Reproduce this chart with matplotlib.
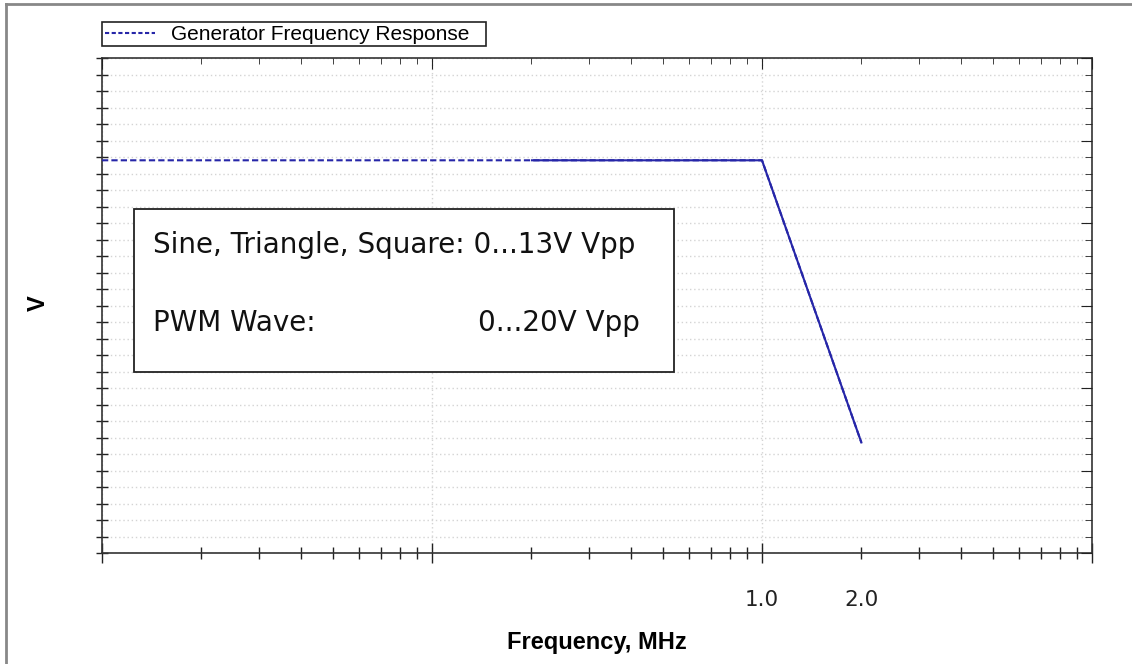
import matplotlib.pyplot as plt
from matplotlib.lines import Line2D
from matplotlib.patches import Rectangle
from matplotlib.ticker import LogLocator, MultipleLocator, NullFormatter

# data
freq_mhz = [0.01, 1.0, 2.0]
volts = [23.8, 23.8, 6.7]
x_tick_pos = [1.0, 2.0]
x_tick_txt = ['1.0', '2.0']
solid_from = 0.2   # left part of the trace is drawn dashed

W, H = 1132, 664
fig = plt.figure(figsize=(W / 100, H / 100), dpi=100)
fig.patch.set_facecolor('white')

L, R, T, B = 102, 1092, 58, 553
ax = fig.add_axes([L / W, 1 - B / H, (R - L) / W, (B - T) / H])
ax.set_xscale('log')
ax.set_xlim(0.01, 10)
ax.set_ylim(0, 30)

blue = '#2626a8'
ln, = ax.plot(freq_mhz, volts, color=blue, lw=1.5, linestyle=(0, (3, 1.5)),
              label='Generator Frequency Response', zorder=3)
solid, = ax.plot(freq_mhz, volts, color=blue, lw=1.5, zorder=4)
clip = Rectangle((solid_from, 0), 100, 30, transform=ax.transData, visible=False)
ax.add_patch(clip)
solid.set_clip_path(clip)

# grid: dotted, minor y, major x
ax.yaxis.set_major_locator(MultipleLocator(5))
ax.yaxis.set_minor_locator(MultipleLocator(1))
ax.xaxis.set_major_locator(LogLocator(base=10, numticks=10))
ax.xaxis.set_minor_locator(LogLocator(base=10, subs=range(2, 10), numticks=20))
ax.grid(True, which='minor', axis='y', color='#d4d4d4', lw=1, linestyle=(0, (1, 2)))
ax.grid(True, which='major', axis='x', color='#d4d4d4', lw=1, linestyle=(0, (1, 2)))
for fmt_axis in (ax.xaxis, ax.yaxis):
    fmt_axis.set_major_formatter(NullFormatter())
    fmt_axis.set_minor_formatter(NullFormatter())

ax.tick_params(axis='x', which='major', direction='inout', length=14, width=1, color='#222222')
ax.tick_params(axis='x', which='minor', direction='inout', length=8, width=1, color='#222222')
ax.tick_params(axis='y', which='major', direction='inout', length=16, width=1, color='#222222')
ax.tick_params(axis='y', which='minor', direction='inout', length=9, width=1, color='#222222')
for s in ax.spines.values():
    s.set_color('#333333')
    s.set_linewidth(1.2)

# labels for 1.0 and 2.0
for xv, txt in zip(x_tick_pos, x_tick_txt):
    ax.text(xv, -0.075, txt, transform=ax.get_xaxis_transform(), ha='center', va='top',
            fontsize=15.5, family='DejaVu Sans', color='#222222')

# top and right inner ticks
axt = ax.twiny()
axt.set_xscale('log')
axt.set_xlim(ax.get_xlim())
axt.xaxis.set_major_locator(LogLocator(base=10, numticks=10))
axt.xaxis.set_minor_locator(LogLocator(base=10, subs=range(2, 10), numticks=20))
axt.xaxis.set_major_formatter(NullFormatter())
axt.xaxis.set_minor_formatter(NullFormatter())
axt.tick_params(axis='x', which='major', direction='in', length=8, color='#222222')
axt.tick_params(axis='x', which='minor', direction='in', length=4, color='#222222')
axt.set_yticks([])
axr = ax.twinx()
axr.set_ylim(ax.get_ylim())
axr.yaxis.set_major_locator(MultipleLocator(5))
axr.yaxis.set_minor_locator(MultipleLocator(1))
axr.yaxis.set_major_formatter(NullFormatter())
axr.yaxis.set_minor_formatter(NullFormatter())
axr.tick_params(axis='y', which='major', direction='in', length=8, color='#222222')
axr.tick_params(axis='y', which='minor', direction='in', length=5, color='#222222')
for a in (axt, axr):
    for s in a.spines.values():
        s.set_visible(False)

ax.set_xlabel('Frequency, MHz', fontsize=17, fontweight='bold', family='Liberation Sans',
              labelpad=46)
fig.text(38 / W, 1 - 303 / H, 'V', rotation=90, ha='center', va='center',
         fontsize=17, fontweight='bold', family='Liberation Sans')

# info box
box = Rectangle((0.0323, 0.3657), 0.5455, 0.3293, transform=ax.transAxes,
                facecolor='white', edgecolor='#222222', lw=1.3, zorder=5)
ax.add_patch(box)
box_font = dict(fontsize=20, family='DejaVu Sans', va='center', ha='left',
                color='#111111', zorder=6, transform=ax.transAxes)
ax.text(0.0515, 0.622, 'Sine, Triangle, Square: 0...13V Vpp', **box_font)
ax.text(0.0515, 0.465, 'PWM Wave:', **box_font)
ax.text((478 - L) / (R - L), 0.465, '0...20V Vpp', **box_font)

# legend without its own frame; frame drawn to the reference size
leg = fig.legend(handles=[Line2D([], [], color=blue, lw=1.5, linestyle=(0, (2, 1.2)))],
                 labels=['Generator Frequency Response'],
                 loc='upper left', bbox_to_anchor=(L / W, 1 - 22 / H), borderaxespad=0,
                 frameon=False, borderpad=0.15,
                 handlelength=2.4, handletextpad=0.75,
                 prop={'family': 'Liberation Sans', 'size': 15})
fig.add_artist(Rectangle((L / W, 1 - 46 / H), (486 - L) / W, 24 / H, transform=fig.transFigure,
                         facecolor='none', edgecolor='#222222', lw=1.2))

# outer frame (top and left edges visible)
fig.add_artist(Line2D([6 / W, 6 / W], [0, 1 - 4 / H], color='#888888', lw=2, transform=fig.transFigure))
fig.add_artist(Line2D([6 / W, 1], [1 - 4 / H, 1 - 4 / H], color='#888888', lw=2, transform=fig.transFigure))

fig.savefig('out.png', dpi=100)
